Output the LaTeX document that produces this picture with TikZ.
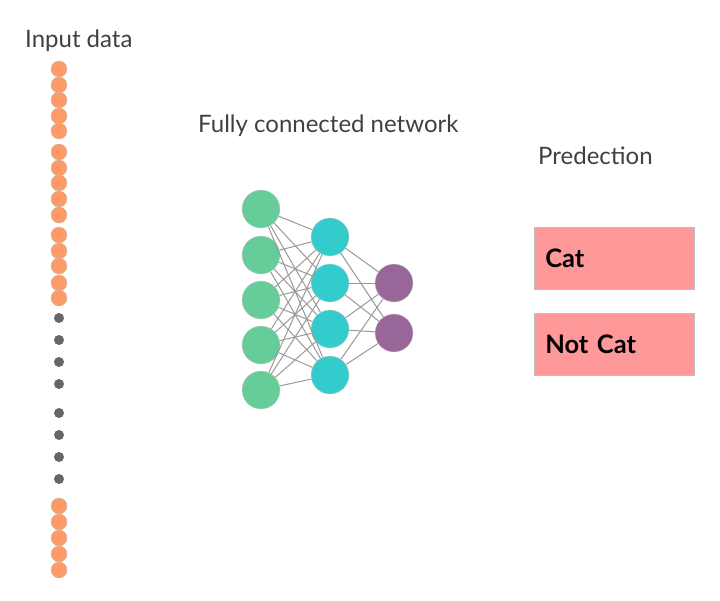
\documentclass[tikz,border=0pt]{standalone}
\usepackage{fontspec}
\setmainfont{Lato}
\usepackage{tikz}
\definecolor{dotorange}{HTML}{FF9966}
\definecolor{dotgray}{HTML}{666666}
\definecolor{nodegreen}{HTML}{66CC99}
\definecolor{nodecyan}{HTML}{33CCCC}
\definecolor{nodepurple}{HTML}{996699}
\definecolor{boxpink}{HTML}{FF9999}
\definecolor{textgray}{HTML}{404040}
\tikzset{
    inputdot/.style={circle, fill=dotorange, draw=black!25, line width=0.4pt, minimum size=16pt, inner sep=0pt},
    skipdot/.style={circle, fill=dotgray, minimum size=10pt, inner sep=0pt},
    neuron/.style={circle, draw=black!20, line width=0.4pt, minimum size=38pt, inner sep=0pt},
    edge/.style={draw=black!40, line width=1pt},
    title/.style={anchor=base west, inner sep=0pt, text=textgray, font=\fontsize{24}{28}\selectfont},
    classbox/.style={anchor=north west, fill=boxpink, draw=black!25, line width=0.6pt, minimum height=62pt, text width=138pt, inner xsep=11pt, font=\fontsize{25.5}{30}\selectfont\bfseries}
}
\begin{document}
\begin{tikzpicture}[x=1pt,y=-1pt]
\useasboundingbox (0,0) rectangle (720,600);
% input vector
\foreach \y [count=\i] in {69,85,100,116,131,152,168,183,199,215,235,251,266,283,298,506,522,538,554,570}{
    \node[inputdot] (in\i) at (59,\y) {};
}
\foreach \y [count=\i] in {318,340,362,384,413,435,457,479}{
    \node[skipdot] (gap\i) at (59,\y) {};
}
\node[title] (inputlabel) at (25,47) {Input data};
% network
\foreach \y [count=\i] in {209,255,300,345,390}
    \node[neuron, fill=nodegreen] (a\i) at (261,\y) {};
\foreach \y [count=\i] in {237,283,329,375}
    \node[neuron, fill=nodecyan] (b\i) at (330,\y) {};
\foreach \y [count=\i] in {283,333}
    \node[neuron, fill=nodepurple] (c\i) at (394,\y) {};
\foreach \i in {1,...,5}
    \foreach \j in {1,...,4}
        \draw[edge] (a\i) -- (b\j);
\foreach \i in {1,...,4}
    \foreach \j in {1,2}
        \draw[edge] (b\i) -- (c\j);
\node[title] (netlabel) at (198,132) {Fully connected network};
% prediction
\node[title] (predlabel) at (538,164) {Predection};
\node[classbox] (cat) at (534,227) {Cat};
\node[classbox] (notcat) at (534,313) {Not Cat};
\end{tikzpicture}
\end{document}
